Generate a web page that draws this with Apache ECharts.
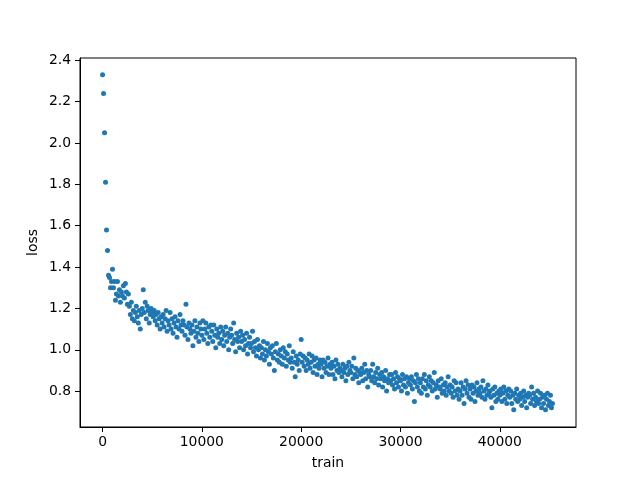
<!DOCTYPE html>
<html>
<head>
<meta charset="utf-8">
<script src="https://cdn.jsdelivr.net/npm/echarts@6/dist/echarts.min.js"></script>
<style>html,body{margin:0;padding:0;background:#fff}#c{width:640px;height:480px}</style>
</head>
<body>
<div id="c"></div>
<script>
// iteration step between recorded losses
const step = 100;
const loss = [
2.33,2.24,2.05,1.81,1.58,1.48,1.36,1.35,1.30,1.33,
1.39,1.30,1.33,1.24,1.27,1.33,1.26,1.29,1.23,1.28,
1.26,1.31,1.25,1.32,1.28,1.22,1.27,1.21,1.17,1.23,
1.15,1.19,1.14,1.18,1.21,1.16,1.13,1.19,1.10,1.17,
1.20,1.29,1.18,1.23,1.15,1.21,1.19,1.13,1.17,1.20,
1.18,1.16,1.19,1.14,1.17,1.12,1.18,1.15,1.10,1.16,
1.13,1.17,1.11,1.15,1.19,1.09,1.14,1.12,1.18,1.10,
1.15,1.08,1.13,1.16,1.11,1.06,1.14,1.10,1.17,1.12,
1.09,1.14,1.12,1.07,1.22,1.11,1.05,1.13,1.10,1.08,
1.12,1.02,1.09,1.14,1.06,1.11,1.08,1.04,1.13,1.10,
1.07,1.14,1.05,1.10,1.13,1.08,1.03,1.11,1.06,1.12,
1.09,1.04,1.12,1.07,1.01,1.10,1.06,1.08,1.03,1.11,
1.05,1.09,1.02,1.07,1.11,1.04,1.08,1.00,1.06,1.10,
1.07,1.03,1.13,1.05,0.99,1.08,1.04,1.06,1.01,1.09,
1.04,1.07,1.00,1.05,1.02,1.08,0.98,1.03,1.06,1.01,
1.03,1.09,0.99,1.04,1.01,0.97,1.05,1.00,1.02,0.96,
1.01,0.98,1.04,0.95,1.00,0.97,1.03,0.99,0.93,1.01,
0.98,1.02,0.96,0.90,0.99,1.03,0.95,0.98,0.94,1.00,
0.97,0.93,1.01,0.96,0.99,0.92,0.98,0.95,1.02,0.94,
0.96,0.91,0.99,0.94,0.87,0.97,0.93,0.95,0.90,0.98,
1.05,0.94,0.97,0.92,0.96,0.90,0.95,0.93,0.98,0.91,
0.94,0.97,0.89,0.95,0.92,0.96,0.88,0.93,0.91,0.95,
0.93,0.87,0.95,0.91,0.94,0.89,0.92,0.96,0.88,0.93,
0.91,0.94,0.88,0.92,0.86,0.95,0.90,0.93,0.89,0.91,
0.90,0.87,0.93,0.89,0.91,0.85,0.92,0.88,0.94,0.90,
0.89,0.92,0.86,0.96,0.88,0.91,0.87,0.90,0.84,0.89,
0.88,0.91,0.85,0.89,0.93,0.86,0.90,0.82,0.88,0.87,
0.90,0.85,0.93,0.87,0.84,0.89,0.86,0.91,0.83,0.88,
0.86,0.89,0.82,0.87,0.85,0.90,0.80,0.86,0.84,0.88,
0.85,0.88,0.83,0.86,0.81,0.89,0.84,0.87,0.82,0.86,
0.85,0.80,0.88,0.83,0.86,0.82,0.87,0.79,0.84,0.86,
0.83,0.87,0.81,0.85,0.75,0.84,0.88,0.82,0.86,0.80,
0.84,0.79,0.86,0.82,0.88,0.81,0.85,0.78,0.83,0.87,
0.82,0.85,0.80,0.84,0.89,0.81,0.83,0.77,0.85,0.82,
0.81,0.86,0.79,0.83,0.80,0.84,0.78,0.82,0.87,0.80,
0.83,0.79,0.82,0.77,0.85,0.80,0.84,0.78,0.81,0.76,
0.80,0.84,0.78,0.82,0.74,0.81,0.85,0.79,0.83,0.77,
0.81,0.76,0.83,0.79,0.82,0.75,0.80,0.84,0.78,0.81,
0.79,0.82,0.77,0.85,0.80,0.76,0.81,0.78,0.83,0.79,
0.80,0.77,0.72,0.81,0.78,0.82,0.75,0.79,0.76,0.80,
0.78,0.81,0.75,0.79,0.82,0.76,0.80,0.74,0.78,0.81,
0.77,0.80,0.74,0.78,0.71,0.79,0.76,0.81,0.75,0.78,
0.76,0.79,0.73,0.77,0.80,0.75,0.78,0.72,0.77,0.79,
0.78,0.74,0.82,0.76,0.79,0.73,0.77,0.75,0.80,0.74,
0.76,0.79,0.72,0.77,0.74,0.78,0.71,0.76,0.79,0.73,
0.75,0.78,0.72,0.74
];
const xTicks = [0, 10000, 20000, 30000, 40000];
const yTicks = [0.8, 1.0, 1.2, 1.4, 1.6, 1.8, 2.0, 2.2, 2.4];

const points = loss.map((v, i) => [i * step, v]);

const chart = echarts.init(document.getElementById('c'), null, {renderer: 'canvas'});
const font = 'DejaVu Sans';
chart.setOption({
  backgroundColor: '#fff',
  animation: false,
  grid: {left: 80, right: 64, top: 58, bottom: 53, show: true, borderColor: '#000', borderWidth: 1, backgroundColor: 'transparent'},
  xAxis: {
    type: 'value', min: -2270, max: 47670,
    name: 'train', nameLocation: 'middle', nameGap: 29,
    nameTextStyle: {fontFamily: font, fontSize: 13.9, color: '#000'},
    axisLine: {show: true, onZero: false, lineStyle: {color: '#000', width: 1}},
    axisTick: {show: true, inside: false, length: 5, customValues: xTicks, lineStyle: {color: '#000'}},
    axisLabel: {customValues: xTicks, fontFamily: font, fontSize: 13.9, color: '#000', margin: 8,
      formatter: v => String(Math.round(v))},
    splitLine: {show: false}
  },
  yAxis: {
    type: 'value', min: 0.6263, max: 2.4116,
    name: 'loss', nameLocation: 'middle', nameGap: 40, nameRotate: 90, nameMoveOverlap: false,
    nameTextStyle: {fontFamily: font, fontSize: 13.9, color: '#000'},
    axisLine: {show: true, onZero: false, lineStyle: {color: '#000', width: 1}},
    axisTick: {show: true, inside: false, length: 5, customValues: yTicks, lineStyle: {color: '#000'}},
    axisLabel: {customValues: yTicks, fontFamily: font, fontSize: 13.9, color: '#000', margin: 9,
      formatter: v => v.toFixed(1)},
    splitLine: {show: false}
  },
  series: [{
    type: 'scatter', data: points, symbolSize: 5,
    itemStyle: {color: '#1f77b4', opacity: 1}
  }]
});
</script>
</body>
</html>
